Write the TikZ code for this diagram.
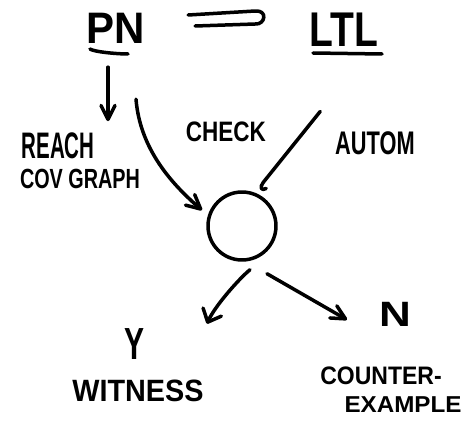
\documentclass[tikz,border=0pt]{standalone}
\usepackage{fontspec}
\usepackage{graphicx}
\setmainfont{Liberation Sans}
\usetikzlibrary{arrows.meta}
% hand-lettered label: size, vertical stretch, text
\newcommand\hw[3]{\fontsize{#1}{#1}\selectfont\bfseries\scalebox{1}[#2]{#3}}

\begin{document}
\begin{tikzpicture}[x=1pt,y=-1pt,
  pen/.style={line width=3.5pt, line cap=round, line join=round},
  lbl/.style={inner sep=0pt, outer sep=0pt},
  arrv/.style={pen, -{Straight Barb[length=14pt, width=14pt, line cap=round, line join=round]}},
  arrd/.style={pen, -{Straight Barb[length=11pt, width=20pt, line cap=round, line join=round]}}]
\useasboundingbox[fill=white] (0,0) rectangle (472,422);

% labels
\node[lbl] (PN)   at (116,28)  {\hw{42}{1.05}{PN}};
\node[lbl] (LTL)  at (344,30)  {\hw{39}{1.25}{LTL}};
\node[lbl] (REACH) at (58,146) {\hw{20.5}{1.8}{REACH}};
\node[lbl] (COV)  at (80,179)  {\hw{19.8}{1.4}{COV GRAPH}};
\node[lbl] (CHECK) at (226,132) {\hw{22.5}{1.25}{CHECK}};
\node[lbl] (AUTOM) at (375,143) {\hw{21.8}{1.5}{AUTOM}};
\node[lbl] (Y)    at (135,344) {\hw{30}{1.5}{Y}};
\node[lbl] (WIT)  at (138,391) {\hw{28.8}{1.07}{WITNESS}};
\node[lbl] (N)    at (395,314) {\hw{44}{0.8}{N}};
\node[lbl] (CTR)  at (381,376) {\hw{23}{1.1}{COUNTER-}};
\node[lbl] (EXA)  at (403,405) {\hw{24.2}{0.95}{EXAMPLE}};

% the check
\node[circle, draw, pen, minimum size=68pt, inner sep=0pt] (C) at (242,226) {};

% underlines
\draw[pen] ([shift={(-26,21)}]PN.center) .. controls +(4,3) and +(-10,0) .. ++(38,5);
\draw[pen] ([shift={(-31,23)}]LTL.center) -- ++(69,1);

% PN => LTL
\draw[pen] ([shift={(43,-13)}]PN.east) -- ++(67,-4)
  .. controls +(13,-1) and +(10,1) .. ++(0,13) -- ++(-60,2);

% PN down to the reachability / coverability graph
\draw[arrv] ([shift={(-8,24)}]PN.south) -- ++(0,54);

% PN into the check
\draw[arrv] ([shift={(20,56)}]PN.south)
  .. controls +(4,50) and +(-30,-26) .. ++(66,111);

% automaton into the check
\draw[pen] ([shift={(-15,-20)}]AUTOM.north west) -- ++(-57,71)
  .. controls +(-4,5) and +(-5,3) .. ++(3,6);

% outcomes
\draw[arrd] ([shift={(8,8)}]C.south)
  .. controls +(-10,8) and +(8,-18) .. ++(-43,54);
\draw[arrv] ([shift={(25,12)}]C.south) -- ++(80,46);
\end{tikzpicture}
\end{document}
